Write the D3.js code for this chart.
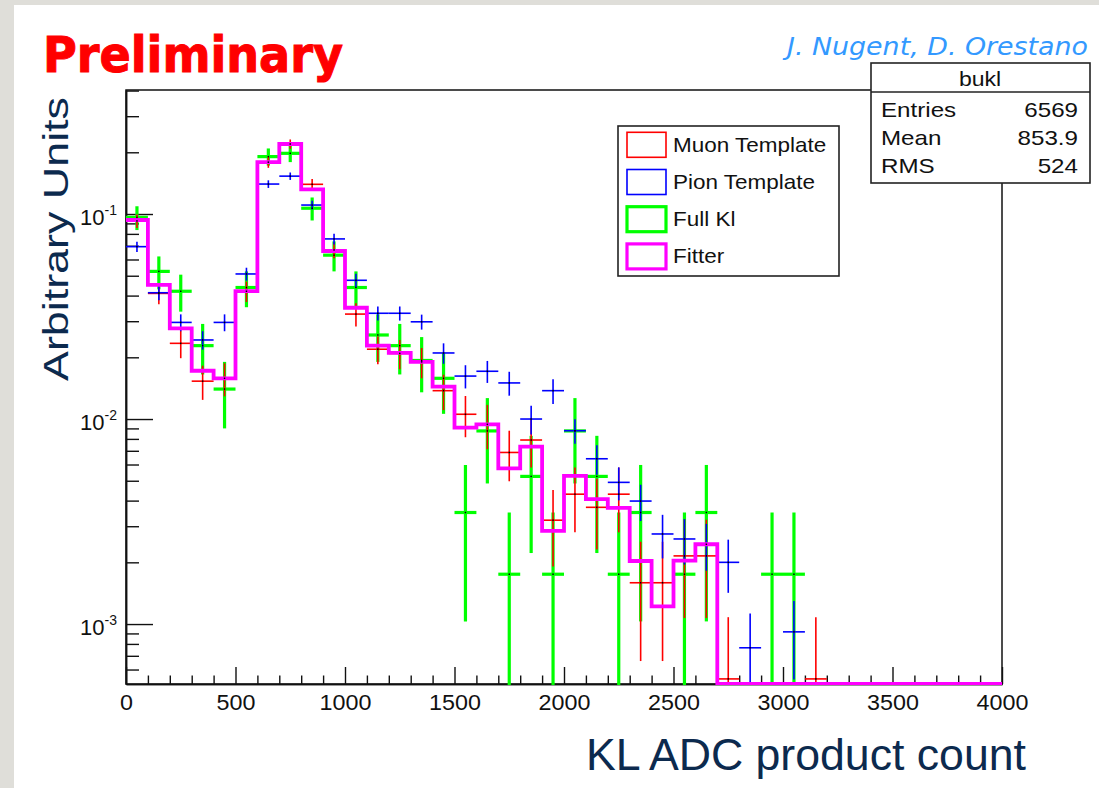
<!DOCTYPE html>
<html>
<head>
<meta charset="utf-8">
<script src="https://cdn.jsdelivr.net/npm/d3@7"></script>
<style>
  html, body { margin: 0; padding: 0; background: #ffffff; }
  svg { display: block; }
</style>
</head>
<body>
<svg id="chart" width="1099" height="788"></svg>
<script>
// ---- histogram data: 40 bins of width 100 on [0, 4000] ----
const binLow = [0, 100, 200, 300, 400, 500, 600, 700, 800, 900,
  1000, 1100, 1200, 1300, 1400, 1500, 1600, 1700, 1800, 1900,
  2000, 2100, 2200, 2300, 2400, 2500, 2600, 2700, 2800, 2900,
  3000, 3100, 3200, 3300, 3400, 3500, 3600, 3700, 3800, 3900];
const binWidth = 100;

const muonValues = [0.0925, 0.041, 0.0234, 0.0153, 0.0158, 0.042, 0.179, 0.2195, 0.1396, 0.0668,
  0.0325, 0.0219, 0.0209, 0.019, 0.01375, 0.01055, 0.00942, 0.00687, 0.0079, 0.00321,
  0.0043, 0.00371, 0.0043, 0.00159, 0.00159, 0.00215, 0.00215, 0.00054, 0, 0,
  0, 0.00054, 0, 0, 0, 0, 0, 0, 0, 0];
const muonErrors = [0.007, 0.0047, 0.0036, 0.0029, 0.0029, 0.0048, 0.011, 0.0115, 0.0087, 0.006,
  0.0042, 0.0034, 0.0034, 0.0032, 0.0027, 0.0024, 0.0023, 0.0019, 0.0021, 0.0013,
  0.0015, 0.0014, 0.0015, 0.00093, 0.00093, 0.00108, 0.00108, 0.00054, 0, 0,
  0, 0.00054, 0, 0, 0, 0, 0, 0, 0, 0];

const pionValues = [0.0693, 0.0413, 0.0296, 0.0243, 0.0296, 0.051, 0.14, 0.153, 0.1106, 0.0756,
  0.0475, 0.0328, 0.0328, 0.0298, 0.021, 0.0162, 0.0171, 0.015, 0.01, 0.01375,
  0.00877, 0.0064, 0.00491, 0.00398, 0.00275, 0.0026, 0.00245, 0.002, 0.000766, 0,
  0.000916, 0, 0, 0, 0, 0, 0, 0, 0, 0];
const pionErrors = [0.004, 0.0033, 0.0028, 0.0025, 0.0028, 0.0037, 0.006, 0.0064, 0.0054, 0.0045,
  0.0036, 0.0026, 0.0026, 0.0025, 0.0024, 0.0021, 0.0021, 0.002, 0.0016, 0.0019,
  0.0012, 0.00105, 0.0009, 0.0008, 0.00066, 0.00065, 0.00063, 0.00058, 0.00036, 0,
  0.00038, 0, 0, 0, 0, 0, 0, 0, 0, 0];

const fullKlValues = [0.0963, 0.0525, 0.042, 0.0228, 0.014, 0.0438, 0.1905, 0.1977, 0.1067, 0.063,
  0.0438, 0.0257, 0.0228, 0.0193, 0.0158, 0.0035, 0.00875, 0.00175, 0.00525, 0.00175,
  0.00875, 0.00525, 0.00175, 0.0035, 0, 0.00175, 0.0035, 0, 0, 0.00175,
  0.00175, 0, 0, 0, 0, 0, 0, 0, 0, 0];
const fullKlErrors = [0.0128, 0.0096, 0.0086, 0.0063, 0.005, 0.0087, 0.0183, 0.0186, 0.0137, 0.0105,
  0.0087, 0.0067, 0.0063, 0.0058, 0.0052, 0.00247, 0.0039, 0.00175, 0.00303, 0.00175,
  0.0039, 0.00303, 0.00175, 0.00247, 0, 0.00175, 0.00247, 0, 0, 0.00175,
  0.00175, 0, 0, 0, 0, 0, 0, 0, 0, 0];

const fitterValues = [0.0935, 0.0451, 0.0277, 0.0172, 0.0158, 0.0421, 0.179, 0.2195, 0.132, 0.066,
  0.0349, 0.0228, 0.021, 0.019, 0.0144, 0.00908, 0.00942, 0.00575, 0.00733, 0.00285,
  0.00528, 0.00407, 0.00369, 0.00203, 0.00122, 0.00204, 0.00245, 0, 0, 0,
  0, 0, 0, 0, 0, 0, 0, 0, 0, 0];

// ---- axis ticks and labels ----
const xMajorTicks = [0, 500, 1000, 1500, 2000, 2500, 3000, 3500, 4000];
const yDecades = [1e-3, 1e-2, 1e-1];
const yDecadeExponents = ["-3", "-2", "-1"];

// ---- legend / stats text ----
const legendLabels = ["Muon Template", "Pion Template", "Full Kl", "Fitter"];
const legendColors = ["#ff0000", "#0000ff", "#00ff00", "#ff00ff"];
const legendWidths = [1.6, 1.6, 3.2, 3.2];
const statsTitle = "bukl";
const statsNames = ["Entries", "Mean", "RMS"];
const statsValues = ["6569", "853.9", "524"];

// ---- drawing ----
const svg = d3.select("#chart");
const FONT = "'Liberation Sans', Arial, Helvetica, sans-serif";
const W = 1099, H = 788;

// widen a text element by a factor relative to its natural advance
function widen(sel, factor) {
  sel.each(function () {
    const w = this.getComputedTextLength();
    d3.select(this).attr("textLength", w * factor).attr("lengthAdjust", "spacingAndGlyphs");
  });
}

// page background with the grey slide edge
svg.append("rect").attr("width", W).attr("height", H).attr("fill", "#ffffff");
svg.append("rect").attr("x", 0).attr("y", 0).attr("width", W).attr("height", 5).attr("fill", "#dfded9");
svg.append("rect").attr("x", 0).attr("y", 0).attr("width", 14).attr("height", H).attr("fill", "#dfded9");

const plot = { left: 126, right: 1002, top: 90, bottom: 684 };
const x = d3.scaleLinear().domain([0, 4000]).range([plot.left, plot.right]);
const y = d3.scaleLog().domain([5.1e-4, 0.4026]).range([plot.bottom, plot.top]);
const yMin = y.domain()[0];

// clip region for the data marks
svg.append("defs").append("clipPath").attr("id", "plotClip")
  .append("rect").attr("x", plot.left).attr("y", plot.top)
  .attr("width", plot.right - plot.left).attr("height", plot.bottom - plot.top + 1);

// frame
svg.append("rect").attr("x", plot.left).attr("y", plot.top)
  .attr("width", plot.right - plot.left).attr("height", plot.bottom - plot.top)
  .attr("fill", "none").attr("stroke", "#111").attr("stroke-width", 1.5);

// x axis: major ticks with labels, minor ticks every bin
const xMinor = svg.append("g").attr("transform", `translate(0,${plot.bottom})`)
  .call(d3.axisBottom(x).tickValues(binLow.filter(v => v % 500 !== 0)).tickSizeInner(-8.5).tickSizeOuter(0).tickFormat(""));
const xMajor = svg.append("g").attr("transform", `translate(0,${plot.bottom})`)
  .call(d3.axisBottom(x).tickValues(xMajorTicks).tickSizeInner(-17).tickSizeOuter(0).tickPadding(10).tickFormat(d3.format("d")));
[xMinor, xMajor].forEach(g => {
  g.select(".domain").attr("stroke", "#111").attr("stroke-width", 1.5);
  g.selectAll(".tick line").attr("stroke", "#111").attr("stroke-width", 1.4);
});
xMajor.selectAll(".tick text").attr("font-family", FONT).attr("font-size", 22).attr("fill", "#111");
widen(xMajor.selectAll(".tick text"), 1.06);

// y axis: decade ticks and the minor 2..9 ticks
const yMinor = svg.append("g").attr("transform", `translate(${plot.left},0)`)
  .call(d3.axisLeft(y).tickValues(y.ticks().filter(v => !yDecades.some(d => Math.abs(v - d) / d < 1e-6)))
    .tickSizeInner(-13).tickSizeOuter(0).tickFormat(""));
const yMajor = svg.append("g").attr("transform", `translate(${plot.left},0)`)
  .call(d3.axisLeft(y).tickValues(yDecades).tickSizeInner(-27).tickSizeOuter(0).tickFormat(""));
[yMinor, yMajor].forEach(g => {
  g.select(".domain").attr("stroke", "#111").attr("stroke-width", 1.5);
  g.selectAll(".tick line").attr("stroke", "#111").attr("stroke-width", 1.4);
});

// y decade labels written as 10 with a raised exponent
const yLab = svg.append("g");
yDecades.forEach((d, i) => {
  const t = yLab.append("text")
    .attr("x", 117).attr("y", y(d) + 11)
    .attr("text-anchor", "end").attr("font-family", FONT).attr("fill", "#111");
  t.append("tspan").attr("font-size", 22).text("10");
  t.append("tspan").attr("font-size", 14).attr("dy", -10).text(yDecadeExponents[i]);
});

// data layer
const dataLayer = svg.append("g").attr("clip-path", "url(#plotClip)");

function drawErrorBars(values, errors, color, width) {
  const pts = binLow.map((lo, i) => ({ lo, v: values[i], e: errors[i] })).filter(d => d.v > 0);
  const g = dataLayer.append("g").attr("stroke", color).attr("stroke-width", width).attr("fill", "none");
  g.selectAll(null).data(pts).join("line")
    .attr("x1", d => x(d.lo)).attr("x2", d => x(d.lo + binWidth))
    .attr("y1", d => y(d.v)).attr("y2", d => y(d.v));
  g.selectAll(null).data(pts).join("line")
    .attr("x1", d => x(d.lo + binWidth / 2)).attr("x2", d => x(d.lo + binWidth / 2))
    .attr("y1", d => y(d.v + d.e))
    .attr("y2", d => (d.v - d.e > yMin ? y(d.v - d.e) : plot.bottom + 1));
  return pts;
}

const fullPts = drawErrorBars(fullKlValues, fullKlErrors, "#00ff00", 3.2);
const muonPts = drawErrorBars(muonValues, muonErrors, "#ff0000", 1.6);
const pionPts = drawErrorBars(pionValues, pionErrors, "#0000ff", 1.6);

// fitted histogram drawn as a step outline
const stepPts = [];
binLow.forEach((lo, i) => {
  const v = fitterValues[i];
  const yy = v > 0 ? y(v) : plot.bottom;
  stepPts.push([x(lo), yy], [x(lo + binWidth), yy]);
});
dataLayer.append("path")
  .attr("d", d3.line()(stepPts))
  .attr("fill", "none").attr("stroke", "#ff00ff").attr("stroke-width", 3.8)
  .attr("stroke-linejoin", "miter");

// small black point markers at each bin centre
dataLayer.append("g").selectAll(null)
  .data([...fullPts, ...muonPts, ...pionPts]).join("rect")
  .attr("x", d => x(d.lo + binWidth / 2) - 0.75).attr("y", d => y(d.v) - 0.75)
  .attr("width", 1.5).attr("height", 1.5).attr("fill", "#000");

// legend
const leg = svg.append("g");
leg.append("rect").attr("x", 618).attr("y", 126).attr("width", 221).attr("height", 150)
  .attr("fill", "#ffffff").attr("stroke", "#222").attr("stroke-width", 1.6);
legendLabels.forEach((label, i) => {
  const cy = 144.8 + i * 37.2;
  leg.append("rect").attr("x", 627).attr("y", cy - 12.5).attr("width", 39).attr("height", 25)
    .attr("fill", "none").attr("stroke", legendColors[i]).attr("stroke-width", legendWidths[i]);
  const t = leg.append("text").attr("x", 673).attr("y", cy + 7)
    .attr("font-family", FONT).attr("font-size", 21).attr("fill", "#111").text(label);
  widen(t, 1.07);
});

// statistics box
const st = svg.append("g");
st.append("rect").attr("x", 871).attr("y", 63).attr("width", 219).attr("height", 120)
  .attr("fill", "#ffffff").attr("stroke", "#222").attr("stroke-width", 1.6);
st.append("line").attr("x1", 871).attr("x2", 1090).attr("y1", 92).attr("y2", 92)
  .attr("stroke", "#222").attr("stroke-width", 1.6);
const stTitle = st.append("text").attr("x", 980).attr("y", 86).attr("text-anchor", "middle")
  .attr("font-family", FONT).attr("font-size", 20).attr("fill", "#111").text(statsTitle);
widen(stTitle, 1.15);
statsNames.forEach((n, i) => {
  const by = 117 + i * 28.2;
  const a = st.append("text").attr("x", 881).attr("y", by)
    .attr("font-family", FONT).attr("font-size", 21).attr("fill", "#111").text(n);
  const b = st.append("text").attr("x", 1078).attr("y", by).attr("text-anchor", "end")
    .attr("font-family", FONT).attr("font-size", 21).attr("fill", "#111").text(statsValues[i]);
  widen(a, 1.15);
  widen(b, 1.15);
});

// titles
svg.append("text").attr("x", 43).attr("y", 72)
  .attr("font-family", "'DejaVu Sans', Verdana, sans-serif").attr("font-weight", "bold")
  .attr("font-size", 49).attr("fill", "#ff0000").attr("stroke", "#ff0000").attr("stroke-width", 1)
  .attr("textLength", 300).attr("lengthAdjust", "spacingAndGlyphs").text("Preliminary");

svg.append("text").attr("x", 787).attr("y", 55)
  .attr("font-family", "'DejaVu Sans', Verdana, sans-serif").attr("font-style", "italic")
  .attr("font-size", 24).attr("fill", "#3399ff")
  .attr("textLength", 301).attr("lengthAdjust", "spacingAndGlyphs").text("J. Nugent, D. Orestano");

svg.append("text").attr("transform", "translate(68,381) rotate(-90)")
  .attr("font-family", FONT).attr("font-size", 35).attr("fill", "#0c2a4e")
  .attr("textLength", 284).attr("lengthAdjust", "spacingAndGlyphs").text("Arbitrary Units");

svg.append("text").attr("x", 1026).attr("y", 770).attr("text-anchor", "end")
  .attr("font-family", FONT).attr("font-size", 45).attr("fill", "#0c2a4e")
  .attr("textLength", 440).attr("lengthAdjust", "spacingAndGlyphs").text("KL ADC product count");
</script>
</body>
</html>
